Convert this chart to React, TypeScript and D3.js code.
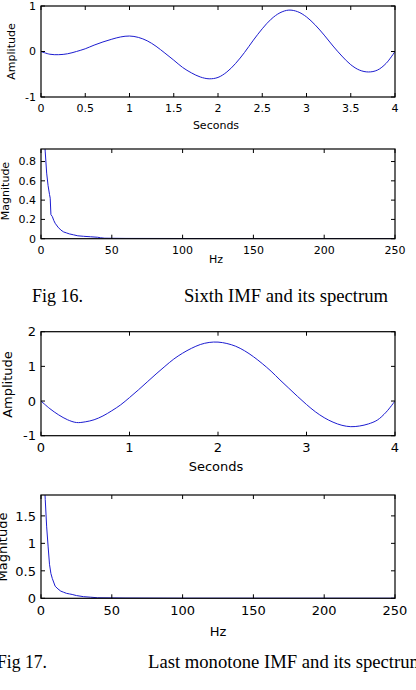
import * as d3 from 'd3'

// sixth IMF (seconds / amplitude)
const sixthTime = [0, 0.1, 0.2, 0.3, 0.4, 0.5, 0.6, 0.7, 0.8, 0.9, 1.0, 1.1, 1.2, 1.3, 1.4, 1.5, 1.6, 1.7, 1.8, 1.9, 2.0, 2.1, 2.2, 2.3, 2.4, 2.5, 2.6, 2.7, 2.8, 2.9, 3.0, 3.1, 3.2, 3.3, 3.4, 3.5, 3.6, 3.7, 3.8, 3.9, 4.0]
const sixthAmp = [0, -0.06, -0.07, -0.05, 0.0, 0.06, 0.14, 0.21, 0.27, 0.32, 0.34, 0.31, 0.235, 0.115, -0.035, -0.19, -0.35, -0.47, -0.56, -0.6, -0.57, -0.45, -0.26, -0.02, 0.25, 0.5, 0.71, 0.85, 0.91, 0.875, 0.76, 0.58, 0.36, 0.12, -0.1, -0.29, -0.41, -0.45, -0.41, -0.26, 0.0]

// sixth IMF spectrum (Hz / magnitude)
const sixthHz = [0, 1, 2, 3, 4, 5, 6, 6.5, 7, 8, 9, 10, 12, 14, 16, 18, 20, 23, 26, 30, 35, 40, 42, 45, 60, 100, 150, 200, 250]
const sixthMag = [1.6, 1.4, 1.1, 0.9, 0.68, 0.55, 0.46, 0.42, 0.25, 0.23, 0.19, 0.16, 0.12, 0.09, 0.07, 0.06, 0.05, 0.04, 0.03, 0.025, 0.02, 0.015, 0.01, 0.005, 0.003, 0.002, 0.001, 0.001, 0.001]

// last monotone IMF
const lastTime = [0, 0.1, 0.2, 0.3, 0.4, 0.5, 0.6, 0.7, 0.8, 0.9, 1.0, 1.1, 1.2, 1.3, 1.4, 1.5, 1.6, 1.7, 1.8, 1.9, 2.0, 2.1, 2.2, 2.3, 2.4, 2.5, 2.6, 2.7, 2.8, 2.9, 3.0, 3.1, 3.2, 3.3, 3.4, 3.5, 3.6, 3.7, 3.8, 3.9, 4.0]
const lastAmp = [0, -0.22, -0.4, -0.54, -0.62, -0.6, -0.54, -0.43, -0.28, -0.11, 0.1, 0.32, 0.55, 0.78, 1.0, 1.21, 1.38, 1.52, 1.63, 1.69, 1.7, 1.66, 1.58, 1.45, 1.28, 1.08, 0.86, 0.61, 0.37, 0.13, -0.1, -0.31, -0.48, -0.61, -0.7, -0.74, -0.72, -0.66, -0.55, -0.32, 0.0]

// last IMF spectrum
const lastHz = [0, 1, 2, 3, 4, 5, 6, 7, 8, 10, 12, 14, 16, 18, 20, 22, 25, 30, 35, 40, 60, 100, 250]
const lastMag = [3.5, 3.0, 2.3, 1.8, 1.3, 0.95, 0.62, 0.45, 0.36, 0.22, 0.17, 0.13, 0.11, 0.09, 0.08, 0.07, 0.05, 0.03, 0.02, 0.01, 0.005, 0.002, 0.001]

const secTicks1 = [0, 0.5, 1, 1.5, 2, 2.5, 3, 3.5, 4]
const secTicks2 = [0, 1, 2, 3, 4]
const hzTicks = [0, 50, 100, 150, 200, 250]

type PanelProps = {
  id: string
  xs: number[]
  ys: number[]
  xDomain: [number, number]
  yDomain: [number, number]
  xTicks: number[]
  yTicks: number[]
  top: number
  bottom: number
  fontSize: number
  xLabel: string
  yLabel: string
  xLabelY: number
  yLabelX: number
  yLabelY: number
  xLabelX: number
  smooth: boolean
}

const Panel = (p: PanelProps) => {
  const left = 41
  const right = 395
  const x = d3.scaleLinear().domain(p.xDomain).range([left, right])
  const y = d3.scaleLinear().domain(p.yDomain).range([p.bottom, p.top])
  const pts = p.xs.map((v, i) => [v, p.ys[i]] as [number, number])
  const line = d3
    .line<[number, number]>()
    .x((d) => x(d[0]))
    .y((d) => y(d[1]))
    .curve(p.smooth ? d3.curveCatmullRom : d3.curveLinear)
  const tl = 4
  const font = 'DejaVu Sans, sans-serif'
  return (
    <g>
      <defs>
        <clipPath id={p.id}>
          <rect x={left} y={p.top} width={right - left} height={p.bottom - p.top} />
        </clipPath>
      </defs>
      <path d={line(pts) ?? ''} fill="none" stroke="#1c1cd0" strokeWidth={1} clipPath={`url(#${p.id})`} />
      <rect x={left} y={p.top} width={right - left} height={p.bottom - p.top} fill="none" stroke="#000" strokeWidth={1.2} />
      {p.xTicks.map((t) => (
        <g key={'x' + t}>
          <line x1={x(t)} x2={x(t)} y1={p.bottom} y2={p.bottom - tl} stroke="#000" />
          <line x1={x(t)} x2={x(t)} y1={p.top} y2={p.top + tl} stroke="#000" />
          <text x={x(t)} y={p.bottom + 7} dy="0.73em" textAnchor="middle" fontSize={p.fontSize} fontFamily={font}>
            {t}
          </text>
        </g>
      ))}
      {p.yTicks.map((t) => (
        <g key={'y' + t}>
          <line x1={left} x2={left + tl} y1={y(t)} y2={y(t)} stroke="#000" />
          <line x1={right} x2={right - tl} y1={y(t)} y2={y(t)} stroke="#000" />
          <text x={36} y={y(t)} dy="0.36em" textAnchor="end" fontSize={p.fontSize} fontFamily={font}>
            {t}
          </text>
        </g>
      ))}
      <text x={p.xLabelX} y={p.xLabelY} textAnchor="middle" fontSize={p.fontSize} fontFamily={font}>
        {p.xLabel}
      </text>
      <text
        transform={`translate(${p.yLabelX},${p.yLabelY}) rotate(-90)`}
        textAnchor="middle"
        fontSize={p.fontSize}
        fontFamily={font}
      >
        {p.yLabel}
      </text>
    </g>
  )
}

export default function App() {
  const serif = 'Liberation Serif, DejaVu Serif, serif'
  return (
    <svg width={416} height={690} style={{ position: 'absolute', left: 0, top: 0, background: '#fff' }}>
      <Panel
        id="c1"
        xs={sixthTime}
        ys={sixthAmp}
        xDomain={[0, 4]}
        yDomain={[-1, 1]}
        xTicks={secTicks1}
        yTicks={[-1, 0, 1]}
        top={6}
        bottom={97}
        fontSize={11}
        xLabel="Seconds"
        xLabelX={216}
        xLabelY={129}
        yLabel="Amplitude"
        yLabelX={14.5}
        yLabelY={51.5}
        smooth
      />
      <Panel
        id="c2"
        xs={sixthHz}
        ys={sixthMag}
        xDomain={[0, 250]}
        yDomain={[0, 0.93]}
        xTicks={hzTicks}
        yTicks={[0, 0.2, 0.4, 0.6, 0.8]}
        top={149}
        bottom={238.7}
        fontSize={11}
        xLabel="Hz"
        xLabelX={216}
        xLabelY={263}
        yLabel="Magnitude"
        yLabelX={9}
        yLabelY={191}
        smooth={false}
      />
      <text x={32} y={302} fontSize={19} fontFamily={serif} textLength={51} lengthAdjust="spacingAndGlyphs">
        Fig 16.
      </text>
      <text x={184} y={302} fontSize={19} fontFamily={serif} textLength={204} lengthAdjust="spacingAndGlyphs">
        Sixth IMF and its spectrum
      </text>
      <Panel
        id="c3"
        xs={lastTime}
        ys={lastAmp}
        xDomain={[0, 4]}
        yDomain={[-1, 2]}
        xTicks={secTicks2}
        yTicks={[-1, 0, 1, 2]}
        top={331.7}
        bottom={435.7}
        fontSize={13}
        xLabel="Seconds"
        xLabelX={216}
        xLabelY={471}
        yLabel="Amplitude"
        yLabelX={12}
        yLabelY={384.5}
        smooth
      />
      <Panel
        id="c4"
        xs={lastHz}
        ys={lastMag}
        xDomain={[0, 250]}
        yDomain={[0, 1.88]}
        xTicks={hzTicks}
        yTicks={[0, 0.5, 1, 1.5]}
        top={495}
        bottom={598.3}
        fontSize={13}
        xLabel="Hz"
        xLabelX={218}
        xLabelY={636}
        yLabel="Magnitude"
        yLabelX={7}
        yLabelY={547}
        smooth={false}
      />
      <text x={-3} y={668} fontSize={19} fontFamily={serif} textLength={50} lengthAdjust="spacingAndGlyphs">
        Fig 17.
      </text>
      <text x={148} y={668} fontSize={19} fontFamily={serif} textLength={276} lengthAdjust="spacingAndGlyphs">
        Last monotone IMF and its spectrum
      </text>
    </svg>
  )
}
